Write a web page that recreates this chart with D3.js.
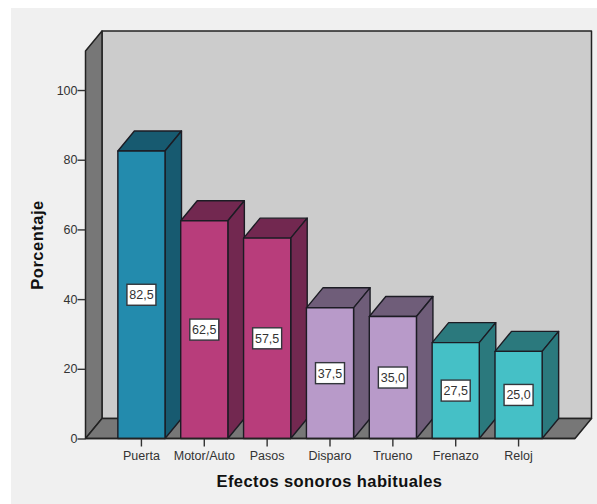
<!DOCTYPE html>
<html>
<head>
<meta charset="utf-8">
<script src="https://cdn.jsdelivr.net/npm/d3@7"></script>
<style>
  html, body { margin: 0; padding: 0; background: #fff; }
  svg { display: block; }
  text { font-family: "Liberation Sans", Arial, sans-serif; }
</style>
</head>
<body>
<div id="chart"></div>
<script>
//Data
var categories = ["Puerta", "Motor/Auto", "Pasos", "Disparo", "Trueno", "Frenazo", "Reloj"];
var percentages = [82.5, 62.5, 57.5, 37.5, 35.0, 27.5, 25.0];
var frontColors = ["#238bad", "#b83d7b", "#b83d7b", "#b89ac9", "#b89ac9", "#45c0c6", "#45c0c6"];
var sideColors = ["#175a70", "#722850", "#722850", "#6f5d79", "#6f5d79", "#2b797d", "#2b797d"];
var yTicks = [0, 20, 40, 60, 80, 100];

//Size of the page and of the 3d box
var width = 597, height = 504;
var depthX = 16.5, depthY = 20;
var lineColor = "#222222";

var svg = d3.select("#chart")
    .append("svg")
    .attr("width", width)
    .attr("height", height);

//Grey panel behind the chart
svg.append("rect")
    .attr("x", 11)
    .attr("y", 8)
    .attr("width", width - 11)
    .attr("height", height - 8)
    .attr("fill", "#f0f0f0");

//Scales
var yScale = d3.scaleLinear()
    .domain([0, 111.2])
    .range([438.5, 51]);

var xScale = d3.scaleBand()
    .domain(categories)
    .range([110, 550])
    .paddingInner(0.25)
    .paddingOuter(0.125);

var left = 85.5, right = 575;
var floorY = yScale(0), topY = yScale(111.2);

function poly(points) {
    return d3.line()(points) + "Z";
}

////////////////////// WALLS //////////////////////
var walls = svg.append("g").attr("class", "walls")
    .attr("stroke", lineColor)
    .attr("stroke-width", 1.5)
    .attr("stroke-linejoin", "round");

//Back wall
walls.append("path")
    .attr("d", poly([[left + depthX, topY - depthY], [right + depthX, topY - depthY],
                     [right + depthX, floorY - depthY], [left + depthX, floorY - depthY]]))
    .attr("fill", "#cccccc");

//Left wall
walls.append("path")
    .attr("d", poly([[left, topY], [left + depthX, topY - depthY],
                     [left + depthX, floorY - depthY], [left, floorY]]))
    .attr("fill", "#777777");

//Floor
walls.append("path")
    .attr("d", poly([[left, floorY], [left + depthX, floorY - depthY],
                     [right + depthX, floorY - depthY], [right, floorY]]))
    .attr("fill", "#777777");

////////////////////// BARS //////////////////////
var barData = categories.map((c, i) => ({category: c, value: percentages[i], front: frontColors[i], side: sideColors[i]}));

var bars = svg.append("g").attr("class", "bars")
    .selectAll("g")
    .data(barData)
    .enter()
    .append("g")
    .attr("stroke", "#1c1c24")
    .attr("stroke-width", 1.4)
    .attr("stroke-linejoin", "round");

//Top face
bars.append("path")
    .attr("fill", d => d.side)
    .attr("d", d => {
        var x0 = xScale(d.category), x1 = x0 + xScale.bandwidth(), y = yScale(d.value);
        return poly([[x0, y], [x0 + depthX, y - depthY], [x1 + depthX, y - depthY], [x1, y]]);
    });

//Side face
bars.append("path")
    .attr("fill", d => d.side)
    .attr("d", d => {
        var x1 = xScale(d.category) + xScale.bandwidth(), y = yScale(d.value);
        return poly([[x1, y], [x1 + depthX, y - depthY], [x1 + depthX, floorY - depthY], [x1, floorY]]);
    });

//Front face
bars.append("rect")
    .attr("fill", d => d.front)
    .attr("x", d => xScale(d.category))
    .attr("y", d => yScale(d.value))
    .attr("width", xScale.bandwidth())
    .attr("height", d => floorY - yScale(d.value));

////////////////////// VALUE LABELS //////////////////////
var commaFormat = d3.formatLocale({decimal: ",", thousands: ".", grouping: [3], currency: ["", ""]}).format(".1f");

var labels = svg.append("g").attr("class", "valueLabels")
    .selectAll("g")
    .data(barData)
    .enter()
    .append("g")
    .attr("transform", d => "translate(" + (xScale(d.category) + xScale.bandwidth() / 2) + "," + yScale(d.value / 2) + ")");

labels.append("rect")
    .attr("x", -14.5)
    .attr("y", -10.5)
    .attr("width", 29)
    .attr("height", 21)
    .attr("fill", "#ffffff")
    .attr("stroke", "#33363c")
    .attr("stroke-width", 1.4);

labels.append("text")
    .attr("text-anchor", "middle")
    .attr("y", 4.5)
    .style("font-size", "12.5px")
    .style("fill", "#333333")
    .text(d => commaFormat(d.value));

////////////////////// AXES //////////////////////
var yAxis = svg.append("g")
    .attr("transform", "translate(" + left + ",0)")
    .call(d3.axisLeft(yScale).tickValues(yTicks).tickSize(8).tickPadding(0));

var xAxis = svg.append("g")
    .attr("transform", "translate(0," + floorY + ")")
    .call(d3.axisBottom(xScale).tickSize(8).tickPadding(5));

[yAxis, xAxis].forEach(axis => {
    axis.select(".domain").remove();
    axis.selectAll("line").attr("stroke", "#333333").attr("stroke-width", 1.4);
    axis.selectAll("text")
        .style("font-family", "'Liberation Sans', Arial, sans-serif")
        .style("font-size", "12.5px")
        .style("fill", "#333333");
});

//Line along the front edge of the floor
svg.append("line")
    .attr("x1", left)
    .attr("x2", right)
    .attr("y1", floorY)
    .attr("y2", floorY)
    .attr("stroke", lineColor)
    .attr("stroke-width", 1.5);

////////////////////// AXIS TITLES //////////////////////
svg.append("text")
    .attr("x", 329.5)
    .attr("y", 487)
    .attr("text-anchor", "middle")
    .style("font-size", "16.5px")
    .style("font-weight", "bold")
    .style("letter-spacing", "0.4px")
    .style("fill", "#111111")
    .text("Efectos sonoros habituales");

svg.append("text")
    .attr("transform", "translate(43,245) rotate(-90)")
    .attr("text-anchor", "middle")
    .style("font-size", "16.5px")
    .style("font-weight", "bold")
    .style("letter-spacing", "0.5px")
    .style("fill", "#111111")
    .text("Porcentaje");
</script>
</body>
</html>
